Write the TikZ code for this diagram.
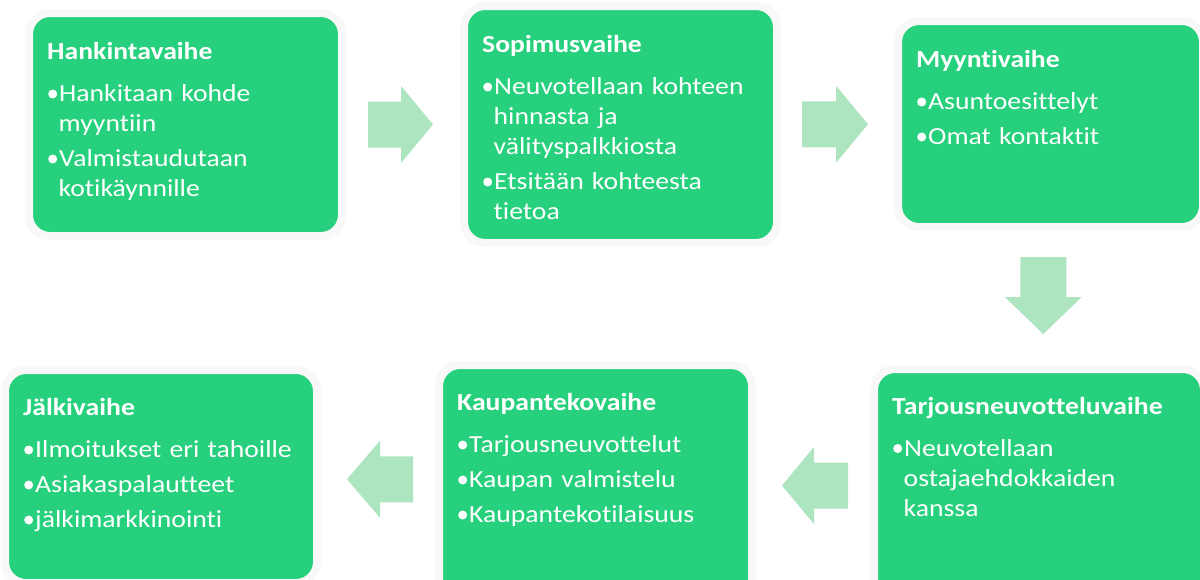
\documentclass[tikz,border=0pt]{standalone}
\usepackage{fontspec}
\setmainfont[FakeStretch=1.13, Ligatures=NoCommon]{Carlito}
\usetikzlibrary{calc}
\definecolor{boxgreen}{RGB}{38,208,124}
\definecolor{arrowgreen}{RGB}{173,229,192}
\definecolor{glowgray}{RGB}{248,248,248}
\newcommand\stagetitle[1]{\setlength\parskip{5pt}\setlength\parindent{0pt}\noindent\rule{0pt}{20pt}\textbf{#1}\par\vspace{7pt}}
\newcommand\bulletdot{\makebox[12pt][l]{\hspace{1pt}\tikz[baseline=0pt]\fill[white] (4.5pt,7.7pt) circle[radius=4.5pt];}}
\newcommand\bitem[1]{\par\hangindent=11.5pt\hangafter=1\noindent\bulletdot#1}
\tikzset{
  stagebox/.style={draw=glowgray, line width=8pt, fill=boxgreen, rounded corners=21pt,
    inner sep=0pt, outer sep=0pt, anchor=north west},
  stagetext/.style={anchor=north west, inner sep=0pt, text width=300pt, align=left,
    text=white, font=\fontsize{24.5pt}{30pt}\selectfont},
  pics/barrow/.style 2 args={code={
    \fill[arrowgreen] ({-(#1+#2)/2},-23) -- ({(#1-#2)/2},-23) -- ({(#1-#2)/2},-38.5)
      -- ({(#1+#2)/2},0) -- ({(#1-#2)/2},38.5) -- ({(#1-#2)/2},23) -- ({-(#1+#2)/2},23) -- cycle;}}
}
\begin{document}
\begin{tikzpicture}[x=1pt,y=-1pt]
\useasboundingbox (0,0) rectangle (1200,579);
\clip (0,0) rectangle (1200,579);
\fill[white] (0,0) rectangle (1200,579);
% boxes (green area + 4px glow)
\node[stagebox, minimum width=313pt, minimum height=223pt] (b1) at (29,13) {};
\node[stagebox, minimum width=313pt, minimum height=237pt] (b2) at (464,6) {};
\node[stagebox, minimum width=305pt, minimum height=206pt] (b3) at (898,21) {};
\node[stagebox, minimum width=330pt, minimum height=240pt] (b4) at (874,369) {};
\node[stagebox, minimum width=313pt, minimum height=240pt] (b5) at (439,365) {};
\node[stagebox, minimum width=312pt, minimum height=213pt] (b6) at (5,370) {};
% texts
\node[stagetext] (t1) at (47,39.5) {\stagetitle{Hankintavaihe}%
  \bitem{Hankitaan kohde\newline myyntiin}\bitem{Valmistaudutaan\newline kotikäynnille}\par};
\node[stagetext] (t2) at (482,32.5) {\stagetitle{Sopimusvaihe}%
  \bitem{Neuvotellaan kohteen\newline hinnasta ja\newline välityspalkkiosta}\bitem{Etsitään kohteesta\newline tietoa}\par};
\node[stagetext] (t3) at (916,47.5) {\stagetitle{Myyntivaihe}%
  \bitem{Asuntoesittelyt}\bitem{Omat kontaktit}\par};
\node[stagetext] (t4) at (892,394) {\stagetitle{Tarjousneuvotteluvaihe}%
  \bitem{Neuvotellaan\newline ostajaehdokkaiden\newline kanssa}\par};
\node[stagetext] (t5) at (457,390.5) {\stagetitle{Kaupantekovaihe}%
  \bitem{Tarjousneuvottelut}\bitem{Kaupan valmistelu}\bitem{Kaupantekotilaisuus}\par};
\node[stagetext] (t6) at (23,395.5) {\stagetitle{Jälkivaihe}%
  \bitem{Ilmoitukset eri tahoille}\bitem{Asiakaspalautteet}\bitem{jälkimarkkinointi}\par};
% block arrows between stages
\pic at ($(b1.east)!0.5!(b2.west)+(-2.5,0)$) {barrow={33}{32}};
\pic at ($(b2.east)!0.5!(b3.west)+(-2.5,0)$) {barrow={34}{32}};
\pic[rotate=-90] at ($(b3.south)!0.5!(b4.north)+(-1.5,-2.5)$) {barrow={40}{37}};
\pic[rotate=180] at ($(b5.west)!0.5!(b6.east)+(2,-1.5)$) {barrow={33}{33}};
\pic[rotate=180] at ($(b4.west)!0.5!(b5.east)+(2,-1.5)$) {barrow={34}{32}};
\end{tikzpicture}
\end{document}
